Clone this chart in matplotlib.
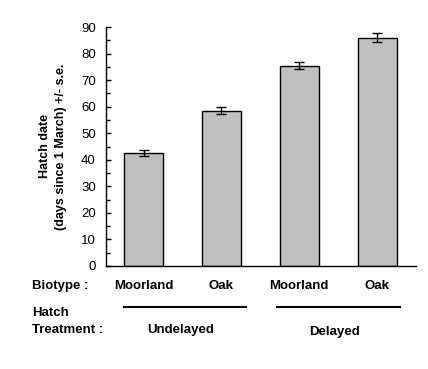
import numpy as np
import matplotlib
matplotlib.use("Agg")
from matplotlib import pyplot as plt

biotypes = ["Moorland", "Oak", "Moorland", "Oak"]
hatch_date = [42.5, 58.5, 75.5, 86.0]
std_err = [1.2, 1.4, 1.3, 1.6]
treatments = ["Undelayed", "Delayed"]

W, H = 428, 369
plt.rcParams['font.family'] = ['Liberation Sans', 'DejaVu Sans']

fig = plt.figure(figsize=(W/100, H/100), dpi=100)
ax = fig.add_axes([105.5/W, 1-266/H, (416-105.5)/W, (266-27)/H])

x = np.arange(len(hatch_date))
ax.bar(x, hatch_date, width=0.5, color="#c0c0c0", edgecolor="black", linewidth=1.0)
ax.errorbar(x, hatch_date, yerr=std_err, fmt="none", ecolor="black",
            elinewidth=1.0, capsize=3.5, capthick=1.0)

ax.set_xlim(-0.49, 3.5)
ax.set_ylim(0, 90)
ax.set_yticks(np.arange(0, 91, 10))
ax.set_yticks(np.arange(5, 90, 10), minor=True)
ax.tick_params(axis="y", which="major", direction="in", length=3.5, width=1,
               labelsize=9.5, pad=7)
ax.tick_params(axis="y", which="minor", direction="in", length=3, width=1)
ax.spines["top"].set_visible(False)
ax.spines["right"].set_visible(False)
ax.spines["left"].set_linewidth(1.0)
ax.spines["bottom"].set_linewidth(1.0)

ax.set_xticks(x)
ax.set_xticklabels(biotypes, fontsize=9.5, fontweight="bold")
ax.tick_params(axis="x", length=0, pad=10)

ax.set_ylabel("Hatch date\n(days since 1 March) +/- s.e.", fontsize=9,
              fontweight="bold", labelpad=10, linespacing=1.45)

# group lines and labels under the bars
for (x0, x1), lab, ty in zip([(-0.25, 1.31), (1.72, 3.29)], treatments, [-0.268, -0.276]):
    ax.plot([x0, x1], [-0.1715, -0.1715], color="black", lw=1.5,
            transform=ax.get_xaxis_transform(), clip_on=False)
    ax.text((x0 + x1) / 2 - 0.05, ty, lab, fontsize=9.5, fontweight="bold",
            ha="center", va="center", transform=ax.get_xaxis_transform())

fig.text(32/W, 1-286/H, "Biotype :", fontsize=9.5, fontweight="bold", va="center")
fig.text(32/W, 1-313/H, "Hatch", fontsize=9.5, fontweight="bold", va="center")
fig.text(32/W, 1-330/H, "Treatment :", fontsize=9.5, fontweight="bold", va="center")

fig.savefig("out.png", dpi=100)
